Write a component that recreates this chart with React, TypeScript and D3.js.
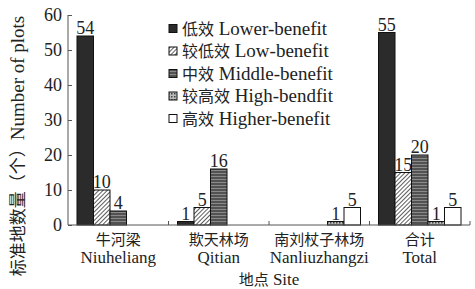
import React, { useEffect, useRef } from 'react';
import * as d3 from 'd3';

const width = 475;
const height = 289;
const margin = { left: 68, right: 5, top: 15, bottom: 64 };

const sites = ['牛河梁|Niuheliang', '欺天林场|Qitian', '南刘杖子林场|Nanliuzhangzi', '合计|Total'];
const levels = ['低效 Lower-benefit', '较低效 Low-benefit', '中效 Middle-benefit', '较高效 High-bendfit', '高效 Higher-benefit'];
const lowerBenefit = [54, 1, 0, 55];
const lowBenefit = [10, 5, 0, 15];
const middleBenefit = [4, 16, 0, 20];
const highBenefit = [0, 0, 1, 1];
const higherBenefit = [0, 0, 5, 5];
const yTicks = [0, 10, 20, 30, 40, 50, 60];

const series = [lowerBenefit, lowBenefit, middleBenefit, highBenefit, higherBenefit];
const fills = ['#2b2b2b', 'url(#hatch)', 'url(#hlines)', 'url(#dots)', '#fff'];
const font = "'Liberation Serif', 'Times New Roman', 'Noto Sans CJK SC', serif";

// split mixed text so CJK glyphs get a smaller size than the latin ones
function mixed(t: any, str: string, latin: number, cjk: number) {
  const parts = str.match(/[\u3000-\u9fff\uff00-\uffef]+|[^\u3000-\u9fff\uff00-\uffef]+/g) || [];
  parts.forEach(p => {
    const isCjk = /[\u3000-\u9fff\uff00-\uffef]/.test(p);
    t.append('tspan').style('font-size', `${isCjk ? cjk : latin}px`).text(p);
  });
  return t;
}

export default function App() {
  const ref = useRef<SVGSVGElement>(null);

  useEffect(() => {
    const svg = d3.select(ref.current);
    svg.selectAll('*').remove();

    const defs = svg.append('defs');
    const hatch = defs.append('pattern').attr('id', 'hatch').attr('patternUnits', 'userSpaceOnUse')
      .attr('width', 3).attr('height', 3).attr('patternTransform', 'rotate(45)');
    hatch.append('rect').attr('width', 3).attr('height', 3).attr('fill', '#fff');
    hatch.append('line').attr('x1', 0).attr('y1', 0).attr('x2', 0).attr('y2', 3)
      .attr('stroke', '#333').attr('stroke-width', 1.6);
    const hl = defs.append('pattern').attr('id', 'hlines').attr('patternUnits', 'userSpaceOnUse')
      .attr('width', 4).attr('height', 3);
    hl.append('rect').attr('width', 4).attr('height', 3).attr('fill', '#8a8a8a');
    hl.append('line').attr('x1', 0).attr('y1', 1).attr('x2', 4).attr('y2', 1)
      .attr('stroke', '#3a3a3a').attr('stroke-width', 1.4);
    const dots = defs.append('pattern').attr('id', 'dots').attr('patternUnits', 'userSpaceOnUse')
      .attr('width', 3).attr('height', 3);
    dots.append('rect').attr('width', 3).attr('height', 3).attr('fill', '#bbb');
    dots.append('rect').attr('width', 1.5).attr('height', 1.5).attr('fill', '#444');

    const x = d3.scaleBand().domain(sites).range([margin.left, width - margin.right]).paddingInner(0).paddingOuter(0);
    const xi = d3.scaleBand<number>().domain(d3.range(levels.length)).range([9, x.bandwidth() - 9]);
    const y = d3.scaleLinear().domain([0, 60]).range([height - margin.bottom, margin.top]);

    const g = svg.append('g').style('font-family', font).style('font-size', '18px');

    // bars
    series.forEach((vals, si) => {
      vals.forEach((v, ci) => {
        if (!v) return;
        const bx = (x(sites[ci]) as number) + (xi(si) as number);
        g.append('rect').attr('x', bx).attr('y', y(v)).attr('width', xi.bandwidth())
          .attr('height', y(0) - y(v)).attr('fill', fills[si]).attr('stroke', '#111').attr('stroke-width', 1);
        g.append('text').attr('x', bx + xi.bandwidth() / 2).attr('y', y(v) - 2)
          .attr('text-anchor', 'middle').attr('fill', '#222').text(v);
      });
    });

    // axes
    const yAxis = d3.axisLeft(y).tickValues(yTicks).tickSize(-4).tickPadding(6);
    const ya = g.append('g').attr('transform', `translate(${margin.left},0)`).call(yAxis);
    ya.select('.domain').attr('d', `M0,${y(0)}V${y(60)}`).attr('stroke', '#555');
    ya.selectAll('.tick line').attr('stroke', '#555');
    ya.selectAll('text').style('font-family', font).style('font-size', '18px').attr('fill', '#222');

    g.append('line').attr('x1', margin.left).attr('x2', width - margin.right)
      .attr('y1', y(0)).attr('y2', y(0)).attr('stroke', '#555');
    sites.forEach((s) => {
      const tx = (x(s) as number) + x.bandwidth();
      g.append('line').attr('x1', tx).attr('x2', tx).attr('y1', y(0)).attr('y2', y(0) - 4).attr('stroke', '#555');
      const cx = (x(s) as number) + x.bandwidth() / 2;
      const [cn, en] = s.split('|');
      g.append('text').attr('x', cx).attr('y', 245).attr('text-anchor', 'middle')
        .style('font-size', '15px').attr('fill', '#222').text(cn);
      g.append('text').attr('x', cx).attr('y', 263).attr('text-anchor', 'middle')
        .style('font-size', '17px').attr('fill', '#222').text(en);
    });

    mixed(g.append('text').attr('x', (margin.left + width - margin.right) / 2).attr('y', 285)
      .attr('text-anchor', 'middle').attr('fill', '#222'), '地点 Site', 17, 15);
    mixed(g.append('text').attr('transform', 'translate(24,146) rotate(-90)')
      .attr('text-anchor', 'middle').attr('fill', '#222'), '标准地数量（个）Number of plots', 19, 17);

    // legend
    levels.forEach((l, i) => {
      const ly = 28.5 + i * 22.5;
      g.append('rect').attr('x', 169).attr('y', ly - 4).attr('width', 8).attr('height', 8)
        .attr('fill', fills[i]).attr('stroke', '#111');
      mixed(g.append('text').attr('x', 182).attr('y', ly + 6).attr('fill', '#222'), l, 19, 16);
    });
  }, []);

  return <svg ref={ref} width={width} height={height} style={{ position: 'absolute', left: 0, top: 0, background: '#fff' }} />;
}
